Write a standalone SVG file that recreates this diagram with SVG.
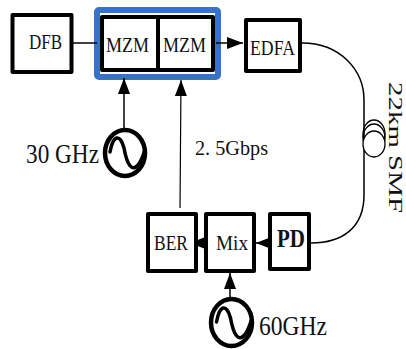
<svg xmlns="http://www.w3.org/2000/svg" width="406" height="349" viewBox="0 0 406 349">
<defs>
<marker id="a" markerUnits="userSpaceOnUse" markerWidth="18" markerHeight="14" refX="16" refY="6.500" orient="auto"><path d="M0 .5L16 6.500L0 12.500Z" fill="#000"/></marker>
<marker id="b" markerUnits="userSpaceOnUse" markerWidth="16" markerHeight="14" refX="14" refY="6.500" orient="auto"><path d="M0 1L14 6.500L0 12Z" fill="#000"/></marker>
</defs>
<style>
text{font-family:"Liberation Serif",serif;fill:#111}
.box{fill:#fff;stroke:#000;stroke-width:4;stroke-linejoin:round}
.t{font-size:20px}
.c{fill:none;stroke:#000;stroke-width:1.500}
.src{fill:none;stroke:#000;stroke-width:3.500;stroke-linecap:round}
.ring{fill:none;stroke:#000;stroke-width:4.500}
</style>
<rect id="modulator-bg" x="97" y="10" width="121" height="67" rx="2" fill="#fff" stroke="#3672c8" stroke-width="6"/>
<g id="connectors">
<path class="c" d="M73 43H97"/>
<path class="c" d="M216 43H243" marker-end="url(#a)"/>
<path class="c" d="M124 128V78" marker-end="url(#a)"/>
<path class="c" d="M180 208L181 80" marker-end="url(#a)" style="stroke-width:1.200"/>
<path class="c" d="M302 43C340 43 364 70 364 100V195C364 228 342 243 311 243"/>
<path class="c" d="M270 243H256" marker-end="url(#b)"/>
<path class="c" d="M204 243H190" marker-end="url(#b)"/>
<path class="c" d="M230 297V273" marker-end="url(#a)"/>
<ellipse cx="374" cy="134" rx="11" ry="14" fill="none" stroke="#000" stroke-width="1.300"/>
<ellipse cx="374" cy="138" rx="11" ry="14" fill="none" stroke="#000" stroke-width="1.300"/>
<ellipse cx="374" cy="144" rx="11" ry="13" fill="#fff" stroke="#000" stroke-width="1.300"/>
</g>
<g id="dfb"><rect class="box" x="12.500" y="15" width="59" height="57"/><text class="t" x="29" y="49" textLength="33" lengthAdjust="spacingAndGlyphs">DFB</text></g>
<g id="mzm1"><rect class="box" x="102" y="17" width="56" height="53"/><text class="t" x="106" y="52" textLength="43" lengthAdjust="spacingAndGlyphs">MZM</text></g>
<g id="mzm2"><rect class="box" x="158" y="17" width="55" height="53"/><text class="t" x="163" y="52" textLength="43" lengthAdjust="spacingAndGlyphs">MZM</text></g>
<g id="edfa"><rect class="box" x="246" y="20" width="54" height="51"/><text class="t" x="250" y="55" textLength="45" lengthAdjust="spacingAndGlyphs">EDFA</text></g>
<g id="ber"><rect class="box" x="148" y="214" width="48" height="57"/><text class="t" x="154" y="250" textLength="34" lengthAdjust="spacingAndGlyphs">BER</text></g>
<g id="mix"><rect class="box" x="206" y="214" width="48" height="57"/><text class="t" x="216" y="250" textLength="32" lengthAdjust="spacingAndGlyphs">Mix</text></g>
<g id="pd"><rect class="box" x="270" y="214" width="39" height="55"/><text x="277" y="247" style="font-size:25px;font-weight:bold" textLength="28" lengthAdjust="spacingAndGlyphs">PD</text></g>
<g id="source30">
<ellipse class="ring" cx="125" cy="153" rx="20" ry="23"/>
<path class="src" d="M110 152C113 135 120 133 124 148C127 165 132 172 138 165C142 160 143 155 145 150"/>
<text x="26" y="163" style="font-size:27px" textLength="73" lengthAdjust="spacingAndGlyphs">30 GHz</text>
</g>
<g id="source60">
<ellipse class="ring" cx="231.500" cy="322.500" rx="20.500" ry="23.500"/>
<path class="src" d="M216.500 322C219.500 305 226.500 303 230.500 318C233.500 335 238.500 342 244.500 335C248.500 330 249.500 325 251.500 320"/>
<text x="259" y="335" style="font-size:27px" textLength="68" lengthAdjust="spacingAndGlyphs">60GHz</text>
</g>
<text id="rate" x="195" y="155" style="font-size:20px" textLength="73" lengthAdjust="spacingAndGlyphs">2. 5Gbps</text>
<text id="fiber" x="0" y="0" transform="translate(389 82) rotate(90)" style="font-size:19.500px" textLength="131" lengthAdjust="spacingAndGlyphs">22km SMF</text>
</svg>
